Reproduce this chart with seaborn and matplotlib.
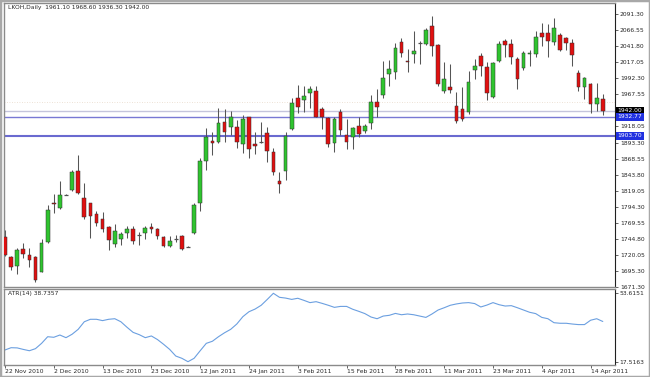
import matplotlib
matplotlib.use("Agg")
import matplotlib.pyplot as plt
import matplotlib.patches as mpatches
import matplotlib.transforms as mtransforms
import numpy as np
import pandas as pd
import seaborn as sns

# daily candles LKOH, 22 Nov 2010 .. 18 Apr 2011
opens = [1748.3, 1716.6, 1703.2, 1728.9, 1720.1, 1716.6, 1694.4, 1740.6, 1800.6, 1792.0,
         1813.6, 1820.2, 1849.5, 1808.3, 1799.7, 1783.2, 1775.5, 1762.8, 1737.0, 1744.3,
         1754.4, 1760.1, 1751.2, 1754.4, 1763.7, 1760.1, 1747.4, 1734.4, 1744.3, 1749.4,
         1732.9, 1753.5, 1799.7, 1865.3, 1894.9, 1893.7, 1924.5, 1916.8, 1917.7, 1891.0,
         1932.2, 1890.6, 1894.6, 1907.5, 1879.2, 1834.5, 1850.0, 1913.7, 1961.4, 1958.8,
         1969.1, 1972.7, 1944.5, 1930.6, 1893.0, 1940.8, 1904.9, 1901.4, 1918.8, 1911.5,
         1922.9, 1956.2, 1966.5, 1998.8, 2002.4, 2047.7, 2019.6, 2029.6, 2046.6, 2045.0,
         2072.8, 2043.5, 1973.1, 1979.3, 1949.1, 1944.5, 1939.9, 2005.0, 2026.6, 2010.1,
         1962.9, 2019.3, 2050.1, 2045.0, 2021.5, 2007.6, 2029.6, 2029.6, 2062.4, 2061.5,
         2048.6, 2058.9, 2053.8, 2047.0, 2000.8, 1979.3, 1983.4, 1952.6, 1961.1]
highs = [1758.6, 1718.6, 1730.9, 1739.0, 1731.3, 1718.6, 1744.3, 1797.1, 1813.6, 1834.5,
         1814.3, 1851.0, 1874.1, 1830.5, 1799.7, 1788.3, 1785.9, 1764.8, 1767.8, 1756.0,
         1764.8, 1764.8, 1756.0, 1764.8, 1768.9, 1762.1, 1749.4, 1749.4, 1750.9, 1750.9,
         1733.5, 1799.7, 1869.0, 1915.2, 1909.5, 1946.0, 1944.5, 1941.9, 1928.0, 1935.7,
         1932.6, 1909.1, 1925.4, 1917.7, 1884.4, 1848.4, 1910.0, 1961.4, 1981.9, 1980.4,
         1980.4, 1979.9, 1948.5, 1932.2, 1932.2, 1944.5, 1929.1, 1917.7, 1932.2, 1921.8,
         1966.5, 1975.3, 2019.3, 2020.4, 2047.0, 2053.8, 2036.9, 2065.5, 2049.7, 2069.2,
         2088.2, 2044.6, 2017.8, 2014.2, 1971.6, 1978.4, 2003.5, 2021.5, 2030.7, 2017.8,
         2017.8, 2050.1, 2052.3, 2052.3, 2024.6, 2034.7, 2035.8, 2065.5, 2076.9, 2075.8,
         2084.6, 2061.5, 2056.3, 2052.3, 2005.0, 1994.7, 1984.5, 1985.4, 1968.6]
lows = [1718.6, 1697.0, 1690.8, 1715.0, 1702.1, 1679.0, 1693.9, 1738.1, 1784.3, 1790.9,
        1812.5, 1819.1, 1813.6, 1775.5, 1745.8, 1764.8, 1756.0, 1727.8, 1732.9, 1735.5,
        1745.8, 1737.0, 1735.5, 1744.3, 1753.5, 1744.3, 1732.9, 1732.9, 1740.6, 1727.8,
        1732.3, 1752.4, 1787.9, 1851.0, 1874.1, 1892.1, 1894.6, 1904.9, 1884.4, 1876.7,
        1869.0, 1875.6, 1892.1, 1863.8, 1843.3, 1815.1, 1835.6, 1912.6, 1938.3, 1940.8,
        1946.0, 1932.2, 1913.7, 1886.9, 1879.2, 1904.9, 1882.9, 1882.9, 1902.3, 1908.4,
        1914.1, 1933.1, 1961.4, 1980.4, 1990.7, 2025.5, 2002.4, 2015.3, 2014.2, 2043.5,
        2026.6, 1980.4, 1970.3, 1969.6, 1922.9, 1926.0, 1937.2, 1990.7, 1995.8, 1958.8,
        1961.4, 2017.8, 2025.5, 2014.2, 1975.3, 2005.0, 2011.2, 2024.6, 2042.0, 2025.5,
        2043.5, 2034.7, 2035.8, 2011.2, 1973.1, 1959.9, 1938.3, 1942.3, 1936.3]
closes = [1720.1, 1701.2, 1727.8, 1721.6, 1712.4, 1681.6, 1738.1, 1789.4, 1798.6, 1812.5,
          1813.1, 1847.5, 1815.1, 1779.1, 1780.2, 1769.8, 1759.7, 1743.2, 1757.1, 1752.4,
          1760.1, 1742.1, 1750.9, 1762.1, 1759.7, 1749.8, 1734.4, 1741.7, 1744.0, 1729.3,
          1732.9, 1797.1, 1865.3, 1902.3, 1892.6, 1923.8, 1910.0, 1932.2, 1893.7, 1929.5,
          1882.9, 1888.4, 1894.3, 1880.3, 1848.4, 1829.4, 1903.4, 1954.6, 1948.5, 1965.0,
          1975.3, 1933.1, 1932.2, 1890.6, 1929.1, 1912.6, 1893.7, 1915.2, 1906.0, 1918.8,
          1956.2, 1947.6, 1992.2, 2006.1, 2038.4, 2030.7, 2017.3, 2034.7, 2046.3, 2066.6,
          2042.0, 1983.4, 1990.7, 1974.7, 1926.9, 1929.1, 1987.0, 2011.6, 2011.2, 1970.0,
          2016.2, 2045.0, 2043.5, 2025.5, 1990.7, 2031.6, 2031.6, 2056.3, 2055.4, 2050.1,
          2069.2, 2035.8, 2047.0, 2028.1, 1978.4, 1992.2, 1952.6, 1961.4, 1942.0]

atr = [23.7, 24.9, 24.8, 24.0, 23.3, 24.4, 27.2, 30.7, 30.4, 31.6,
       30.2, 32.0, 34.6, 38.6, 39.9, 39.9, 39.2, 39.9, 40.2, 38.6,
       35.7, 33.0, 31.8, 30.2, 31.1, 29.2, 26.7, 24.0, 20.5, 19.3,
       17.52, 19.3, 23.3, 27.2, 28.3, 30.7, 32.8, 34.6, 37.4, 41.3,
       43.9, 45.3, 47.3, 50.4, 53.62, 51.5, 51.1, 50.4, 51.0, 49.9,
       48.7, 49.2, 48.3, 47.3, 46.2, 46.7, 46.7, 45.2, 44.1, 42.9,
       41.1, 40.2, 41.6, 42.0, 43.0, 42.3, 42.7, 42.3, 41.6, 40.9,
       42.7, 44.8, 46.0, 47.3, 48.0, 48.5, 48.7, 48.2, 46.4, 47.4,
       48.7, 47.6, 46.9, 47.1, 46.0, 44.8, 43.6, 42.9, 40.9, 40.2,
       38.1, 37.8, 37.8, 37.4, 37.1, 37.1, 39.4, 40.2, 38.74]

date_labels = ["22 Nov 2010", "2 Dec 2010", "13 Dec 2010", "23 Dec 2010", "12 Jan 2011",
               "24 Jan 2011", "3 Feb 2011", "15 Feb 2011", "28 Feb 2011", "11 Mar 2011",
               "23 Mar 2011", "4 Apr 2011", "14 Apr 2011"]
price_ticks = [2091.30, 2066.55, 2041.80, 2017.05, 1992.30, 1967.55, 1918.05, 1893.30,
               1868.55, 1843.80, 1819.05, 1794.30, 1769.55, 1744.80, 1720.05, 1695.30, 1671.30]
atr_ticks = [53.6151, 17.5163]

bid_level = 1942.00
blue_levels = [1932.77, 1903.70]

df = pd.DataFrame({"open": opens, "high": highs, "low": lows, "close": closes, "atr": atr})
df["bar"] = np.arange(len(df))

sns.set_style("white")
plt.rcParams["font.family"] = ["DejaVu Sans"]
FS = 4.3

fig = plt.figure(figsize=(6.5, 3.77), dpi=100)
ax = fig.add_axes([4 / 650, 1 - 287 / 377, 611 / 650, 284 / 377])
ax2 = fig.add_axes([4 / 650, 1 - 365 / 377, 611 / 650, 76 / 377])

# candles
up = df["close"] > df["open"] + 0.6
down = df["close"] < df["open"] - 0.6
doji = ~(up | down)
ax.vlines(df["bar"], df["low"], df["high"], color="#555555", lw=0.75, zorder=2)
for mask, fc in [(up, "#2fc42f"), (down, "#e01010")]:
    sub = df[mask]
    ax.bar(sub["bar"], sub["close"] - sub["open"], bottom=sub["open"], width=0.6,
           color=fc, edgecolor="#303030", linewidth=0.35, zorder=3)
sub = df[doji]
ax.hlines(sub["close"], sub["bar"] - 0.35, sub["bar"] + 0.35, color="#505050", lw=0.9, zorder=3)

# level lines
ax.axhline(1956.2, color="#e8d8c8", lw=0.6, ls=(0, (1, 2)), zorder=1)
ax.axhline(bid_level, color="#c4c4dc", lw=1.0, zorder=1)
ax.axhline(blue_levels[0], color="#7878d4", lw=1.0, zorder=1)
ax.axhline(blue_levels[1], color="#6a6ad0", lw=1.5, zorder=1)

ax.set_xlim(-0.16, 100.0)
ax.set_ylim(1670.8, 2108.2)
ax.yaxis.tick_right()
ax.set_yticks(price_ticks)
ax.set_yticklabels([f"{v:.2f}" for v in price_ticks])
ax.set_xticks([])
ax.tick_params(axis="y", length=2, width=0.5, pad=1.5, labelsize=FS, direction="out", right=True)

trans = mtransforms.blended_transform_factory(ax.transAxes, ax.transData)
boxes = [(bid_level, f"{bid_level:.2f}", "black"),
         (blue_levels[0], f"{blue_levels[0]:.2f}", "#2030e0"),
         (blue_levels[1], f"{blue_levels[1]:.2f}", "#2030e0")]
for lvl, txt, bg in boxes:
    ax.text(1.004, lvl, txt, transform=trans, fontsize=FS, color="white", va="center", ha="left",
            bbox=dict(boxstyle="square,pad=0.25", fc=bg, ec="none"), zorder=5, clip_on=False)

ax.text(0.0065, 0.993, "LKOH,Daily  1961.10 1968.60 1936.30 1942.00", transform=ax.transAxes,
        fontsize=FS, va="top", ha="left")

# ATR panel
sns.lineplot(data=df, x="bar", y="atr", ax=ax2, color="#6b9fe0", lw=0.8)
ax2.set_xlim(-0.16, 100.0)
ax2.set_ylim(15.77, 55.89)
ax2.yaxis.tick_right()
ax2.set_yticks(atr_ticks)
ax2.set_yticklabels([f"{v:.4f}" for v in atr_ticks])
ax2.set_xticks(np.arange(0, 8 * len(date_labels), 8))
ax2.set_xticklabels(date_labels, ha="left")
ax2.set_xlabel("")
ax2.set_ylabel("")
ax2.tick_params(axis="both", length=2, width=0.5, pad=1.2, labelsize=FS, direction="out")
ax2.tick_params(axis="x", bottom=True)
ax2.tick_params(axis="y", right=True)
ax2.text(0.0065, 0.97, "ATR(14) 38.7357", transform=ax2.transAxes, fontsize=FS, va="top", ha="left")

for a in (ax, ax2):
    for side in ("left", "top", "bottom"):
        a.spines[side].set_color("#8a8a8a")
        a.spines[side].set_linewidth(1.0)
    a.spines["right"].set_color("#202020")
    a.spines["right"].set_linewidth(0.8)

fig.patches.append(mpatches.Rectangle((0, 0), 1, 1, transform=fig.transFigure, fill=False,
                                      edgecolor="#a8a8a8", lw=2.5))

fig.savefig("out.png", dpi=100)
